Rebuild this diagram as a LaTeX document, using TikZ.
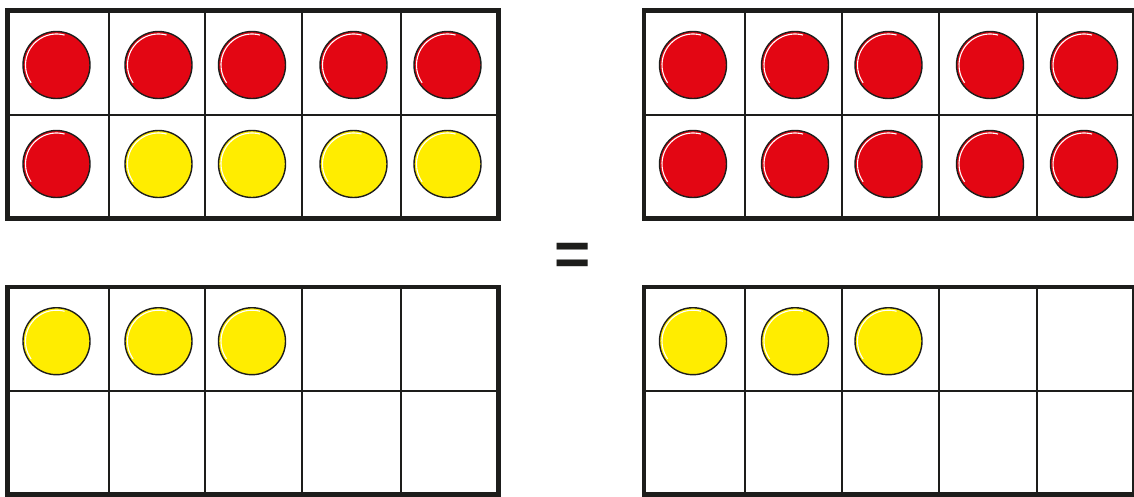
\documentclass[tikz,border=0pt]{standalone}
\usepackage{fontspec}
\usepackage{tikz}
\usetikzlibrary{calc}
\definecolor{framegray}{RGB}{29,29,27}
\definecolor{cred}{RGB}{227,6,19}
\definecolor{cyellow}{RGB}{255,237,0}
\newfontfamily\eqfont{Liberation Sans}

\begin{document}
\begin{tikzpicture}[x=1pt,y=1pt,
    frame/.style={draw=framegray,line width=4.8pt,fill=white,
      minimum width=490.8pt,minimum height=207.7pt,
      inner sep=0pt,outer sep=0pt,anchor=north west},
    grid/.style={draw=framegray,line width=2pt},
    counter/.style={circle,draw=framegray,line width=1.4pt,fill=#1,
      minimum size=67pt,inner sep=0pt},
    shine/.style={draw=white,line width=1.1pt}]
  \useasboundingbox (0,0) rectangle (1134,-496);

  % the four ten frames
  \node[frame] (TL) at (7.5,-10.8) {};
  \node[frame] (TR) at (644,-10.8) {};
  \node[frame] (BL) at (7.5,-287) {};
  \node[frame] (BR) at (644,-287) {};

  \foreach \f in {TL,TR,BL,BR} {
    \foreach \p in {0.2058,0.4034,0.601,0.801}
      \draw[grid] ($(\f.north west)!\p!(\f.north east)$)
        -- ($(\f.south west)!\p!(\f.south east)$);
    \draw[grid] (\f.west) -- (\f.east);
  }

  % counters, filled row by row
  \foreach \f/\cols in {TL/{cred,cred,cred,cred,cred,cred,cyellow,cyellow,cyellow,cyellow},
      TR/{cred,cred,cred,cred,cred,cred,cred,cred,cred,cred},
      BL/{cyellow,cyellow,cyellow},
      BR/{cyellow,cyellow,cyellow}}
    \foreach \c [count=\n from 0] in \cols {
      \pgfmathtruncatemacro\j{div(\n,5)}
      \pgfmathsetmacro\dx{{49,151,244.5,346,440}[mod(\n,5)]}
      \node[counter=\c] (\f-\n) at ($(\f.north west)+(\dx,-54.2-99*\j)$) {};
      \draw[shine] (\f-\n.center) ++(75:31) arc[start angle=75,end angle=215,radius=31];
    }

  \node[text=framegray,anchor=base] (eq) at (573,-275)
    {\eqfont\bfseries\fontsize{62}{62}\selectfont =};
\end{tikzpicture}
\end{document}
